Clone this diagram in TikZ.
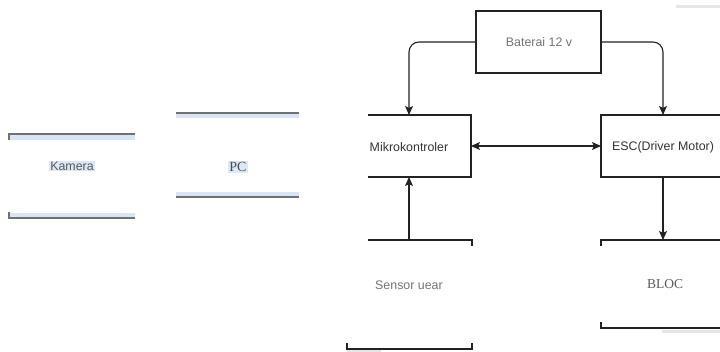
\documentclass[tikz,border=0pt]{standalone}
\usepackage{fontspec}
\setmainfont{Liberation Sans}
\newfontfamily\serifb{Liberation Serif}
\usetikzlibrary{arrows.meta}
\definecolor{lineblk}{HTML}{222222}
\definecolor{linegray}{HTML}{707070}
\definecolor{bandblue}{HTML}{D8E5F6}
\definecolor{hilite}{HTML}{DCE7F7}
\definecolor{faint}{HTML}{E6E6E6}
\tikzset{
  boxline/.style={draw=lineblk, line width=1.1pt},
  grayline/.style={draw=linegray, line width=1.3pt},
  band/.style={fill=bandblue},
  arr/.style={draw=lineblk, line width=1.1pt, -{Stealth[length=9pt,width=8pt,inset=2pt]}},
  darr/.style={draw=lineblk, line width=1.1pt, {Stealth[length=9pt,width=8pt,inset=2pt]}-{Stealth[length=9pt,width=8pt,inset=2pt]}},
  frame/.style={rectangle, inner sep=0pt, outer sep=0pt, draw=none},
  lbl/.style={inner sep=1pt, font=\fontsize{12.4}{14}\selectfont},
}
\begin{document}
\begin{tikzpicture}[x=1pt,y=-1pt]
\useasboundingbox (0,0) rectangle (720,352);
% frames
\node[frame, minimum width=125pt, minimum height=62pt] (bat) at (538.5,42) {};
\node[frame, minimum width=103pt, minimum height=62pt] (mik) at (419.5,146) {};
\node[frame, minimum width=119pt, minimum height=62pt] (esc) at (660.5,146) {};
\node[frame, minimum width=125pt, minimum height=109pt] (sen) at (409.5,294.5) {};
\node[frame, minimum width=119pt, minimum height=88pt] (bloc) at (660.5,284) {};
\node[frame, minimum width=126pt, minimum height=84pt] (kam) at (72,176) {};
\node[frame, minimum width=123pt, minimum height=84pt] (pc) at (237.5,155) {};
% texts
\node[lbl, text=black!55] (tbat) at (539,42) {Baterai 12 v};
\node[lbl, text=black!80] (tmik) at (409,147) {Mikrokontroler};
\node[lbl, text=black!80] (tesc) at (663,147) {ESC(Driver Motor)};
\node[lbl, text=black!55] (tsen) at (409,285) {Sensor uear};
\node[lbl, text=black!65, font=\serifb\fontsize{13.5}{15}\selectfont] (tbloc) at (665,284) {BLOC};
\node[lbl, text=black!65, fill=hilite] (tkam) at (72,166) {Kamera};
\node[lbl, text=black!70, fill=hilite, font=\serifb\fontsize{14}{16}\selectfont] (tpc) at (238,167) {PC};
% box outlines
\draw[boxline] (bat.north west) rectangle (bat.south east);
\draw[boxline] (mik.north west) -- (mik.north east) -- (mik.south east) -- (mik.south west);
\draw[boxline] (esc.north east) -- (esc.north west) -- (esc.south west) -- (esc.south east);
\draw[boxline] ([xshift=21pt]sen.north west) -- (sen.north east) -- ++(0,6);
\draw[boxline] ([yshift=6pt]sen.south west) -- (sen.south west) -- (sen.south east) -- ++(0,-6);
\draw[boxline] (bloc.north east) -- (bloc.north west) -- ++(0,6);
\draw[boxline] (bloc.south east) -- (bloc.south west) -- ++(0,-6);
% faint marks
\draw[faint, line width=3pt] (676,7) -- (720,7);
\fill[faint] ([xshift=61pt,yshift=-2pt]bloc.south west) rectangle ([yshift=-5pt]bloc.south east);
\draw[faint, line width=2pt] ([yshift=-2pt]sen.south west) -- ++(34,0);
% Kamera and PC edges
\fill[band] ([yshift=-1pt]kam.north west) rectangle ([yshift=-6pt]kam.north east);
\draw[grayline] (kam.north east) -- (kam.north west) -- ++(0,6);
\fill[band] ([yshift=1pt]kam.south west) rectangle ([yshift=5pt]kam.south east);
\draw[grayline] (kam.south east) -- (kam.south west) -- ++(0,-6);
\fill[band] ([yshift=-1pt]pc.north west) rectangle ([yshift=-5pt]pc.north east);
\draw[grayline] (pc.north west) -- (pc.north east);
\fill[band] ([yshift=1pt]pc.south west) rectangle ([yshift=5pt]pc.south east);
\draw[grayline] (pc.south west) -- (pc.south east);
% connectors
\draw[arr, rounded corners=10pt] (bat.west) -| (tmik |- mik.north);
\draw[arr, rounded corners=10pt] (bat.east) -| (tesc |- esc.north);
\draw[darr] (mik.east) -- (esc.west);
\draw[arr] (tmik |- sen.north) -- (tmik |- mik.south);
\draw[arr] (tesc |- esc.south) -- (tesc |- bloc.north);
\end{tikzpicture}
\end{document}
